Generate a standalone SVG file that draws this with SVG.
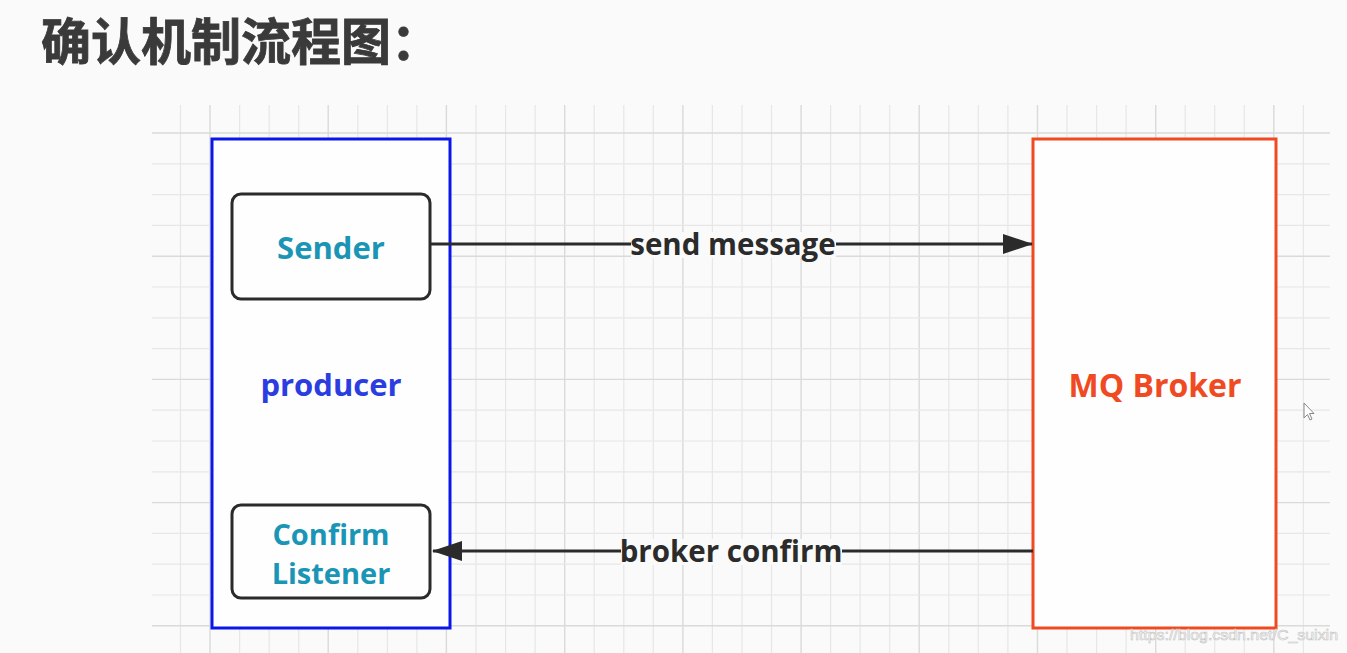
<svg xmlns="http://www.w3.org/2000/svg" width="1347" height="653" viewBox="0 0 1347 653">
<style>
.minor{stroke:#e6e7e6;stroke-width:1.2;fill:none}
.major{stroke:#d9dad9;stroke-width:1.4;fill:none}
.lbl{font-family:"Open Sans","Noto Sans","Liberation Sans",sans-serif;font-weight:bold;text-anchor:middle}
.inner{fill:#fdfefd;stroke:#2b2b2b;stroke-width:3}
.conn{stroke:#2b2b2b;stroke-width:3;fill:none}
.edge{font-family:"Open Sans","Noto Sans","Liberation Sans",sans-serif;font-weight:bold;font-size:29.5px;fill:#2b2b2b;text-anchor:middle}
</style>
<defs>
<marker id="arr" viewBox="0 0 30 20" refX="29" refY="10" markerWidth="30" markerHeight="20" markerUnits="userSpaceOnUse" orient="auto">
<path d="M0,0 L30,10 L0,20 Z" fill="#2b2b2b"/>
</marker>
</defs>
<rect x="0" y="0" width="1347" height="653" fill="#f9faf9"/>
<g id="title">
<text x="41" y="60" font-family="'Noto Sans CJK SC','Noto Sans CJK JP',sans-serif" font-weight="bold" font-size="50" fill="#3a3a3a" stroke="#3a3a3a" stroke-width="0.8">确认机制流程图：</text>
</g>
<g id="grid">
<path class="minor" d="M180.5,105V653M239.6,105V653M269.2,105V653M298.7,105V653M357.8,105V653M387.4,105V653M416.9,105V653M476,105V653M505.6,105V653M535.1,105V653M594.2,105V653M623.8,105V653M653.3,105V653M712.4,105V653M742,105V653M771.5,105V653M830.6,105V653M860.1,105V653M889.7,105V653M948.8,105V653M978.3,105V653M1007.9,105V653M1067,105V653M1096.6,105V653M1126.1,105V653M1185.2,105V653M1214.7,105V653M1244.3,105V653M1303.4,105V653"/>
<path class="major" d="M210,105V653M328.2,105V653M446.4,105V653M564.7,105V653M682.9,105V653M801.1,105V653M919.2,105V653M1037.5,105V653M1155.7,105V653M1273.8,105V653"/>
<path class="minor" d="M152,163.8H1330M152,194.6H1330M152,225.4H1330M152,287H1330M152,317.8H1330M152,348.6H1330M152,410.2H1330M152,441H1330M152,471.8H1330M152,533.4H1330M152,564.2H1330M152,595H1330"/>
<path class="major" d="M152,133H1330M152,256.2H1330M152,379.4H1330M152,502.6H1330M152,625.8H1330"/>
</g>
<g id="producer">
<rect x="212" y="139" width="238" height="489" fill="#fdfefd" stroke="#0b16e8" stroke-width="3"/>
<text class="lbl" x="331" y="396" font-size="31" fill="#2b3de0">producer</text>
</g>
<g id="sender">
<rect class="inner" x="232" y="194" width="198" height="105" rx="9"/>
<text class="lbl" x="331" y="259" font-size="31" fill="#1b95b6">Sender</text>
</g>
<g id="confirm-listener">
<rect class="inner" x="232" y="505" width="198" height="93" rx="9"/>
<text class="lbl" x="331" y="545" font-size="29" fill="#1b95b6">Confirm</text>
<text class="lbl" x="331" y="584" font-size="29" fill="#1b95b6">Listener</text>
</g>
<g id="mq-broker">
<rect x="1033" y="139" width="243" height="489" fill="#fdfefd" stroke="#f04a23" stroke-width="3"/>
<text class="lbl" x="1155" y="397" font-size="32" fill="#f04a23">MQ Broker</text>
</g>
<g id="connectors">
<path class="conn" d="M430,244H1032" marker-end="url(#arr)"/>
<rect x="631" y="232" width="205" height="26" fill="#f9faf9"/>
<text class="edge" x="733" y="255">send message</text>
<path class="conn" d="M1033,551H433" marker-end="url(#arr)"/>
<rect x="621" y="539" width="221" height="26" fill="#f9faf9"/>
<text class="edge" x="731" y="562">broker confirm</text>
</g>
<g id="cursor">
<path d="M1304,403 L1304,418 L1307.5,414.5 L1310,420 L1312,419 L1309.5,413.5 L1314,413.5 Z" fill="#ffffff" stroke="#888" stroke-width="1"/>
</g>
<g id="watermark">
<text x="1130" y="640" textLength="208" lengthAdjust="spacingAndGlyphs" font-family="'Liberation Sans',Arial,sans-serif" font-size="15" fill="#ffffff" stroke="#c4c4c4" stroke-width="0.6">https://blog.csdn.net/C_suixin</text>
</g>
</svg>
